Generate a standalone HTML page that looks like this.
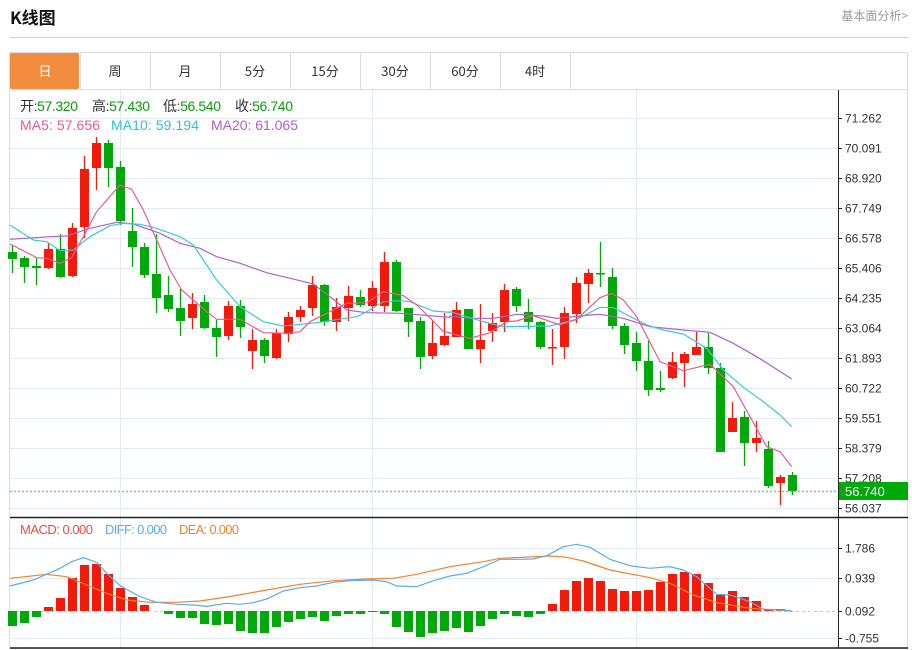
<!DOCTYPE html>
<html><head><meta charset="utf-8">
<style>
body{margin:0;width:912px;height:650px;background:#fff;overflow:hidden;font-family:"Liberation Sans","Noto Sans CJK SC",sans-serif;}
svg{position:absolute;left:0;top:0}
</style></head><body>
<svg id="s" width="912" height="650" xmlns="http://www.w3.org/2000/svg" font-family="Liberation Sans, Noto Sans CJK SC, sans-serif"></svg>
<script>
var s='';
function L(x1,y1,x2,y2,c,w,extra){s+='<line x1="'+x1+'" y1="'+y1+'" x2="'+x2+'" y2="'+y2+'" stroke="'+c+'" stroke-width="'+(w||1)+'" '+(extra||'')+'/>';}
function R(x,y,w,h,c,extra){s+='<rect x="'+x+'" y="'+y+'" width="'+w+'" height="'+h+'" fill="'+c+'" '+(extra||'')+'/>';}
function T(x,y,t,c,sz,extra){s+='<text x="'+x+'" y="'+y+'" fill="'+c+'" font-size="'+sz+'" '+(extra||'')+'>'+t+'</text>';}
// header
T(10,24,'K线图','#111',17,'font-weight="bold" font-family="Noto Sans CJK SC, sans-serif"');
T(908,20,'基本面分析&gt;','#999',12,'text-anchor="end" font-family="Noto Sans CJK SC, sans-serif"');
L(10,37.5,908,37.5,'#d0d0d0',1);
// frame
s+='<rect x="9.5" y="52.5" width="898" height="596" fill="none" stroke="#dcdcdc"/>';
L(10,89.5,908,89.5,'#dcdcdc');
var tabs=['日','周','月','5分','15分','30分','60分','4时'];
R(10,53,69,36,'#f28c3e','rx="2"');
for(var i=0;i<8;i++){var x=10+70*i;
 if(i>0)L(x+0.5,53,x+0.5,89,'#dcdcdc');
 T(x+35,76,tabs[i],i==0?'#fff':'#333',13,'text-anchor="middle" font-family="Noto Sans CJK SC, sans-serif"');}
L(570.5,53,570.5,89,'#dcdcdc');
// grids
for(var k=0;k<14;k++){var y=118+30*k;L(10,y+0.5,838,y+0.5,'#e3ebf2');}
[120,372,636].forEach(function(x){L(x+0.5,90,x+0.5,648,'#e3ebf2');});
[548,578,638].forEach(function(y){L(10,y+0.5,838,y+0.5,'#e3ebf2');});
// axis
L(838.5,90,838.5,648,'#222');
L(10,517.5,908,517.5,'#222',1.5);
L(10,648,908,648,'#222',1.5);
var pl=['71.262','70.091','68.920','67.749','66.578','65.406','64.235','63.064','61.893','60.722','59.551','58.379','57.208','56.037'];
for(var k=0;k<14;k++){var y=118+30*k;L(838,y+0.5,842,y+0.5,'#222');T(845,y+4.5,pl[k],'#333',12);}
[['1.786',548],['0.939',578],['0.092',611],['-0.755',638]].forEach(function(a){L(838,a[1]+0.5,842,a[1]+0.5,'#222');T(845,a[1]+4.5,a[0],'#333',12);});
var C=[['g',245,252,259,273],['g',256,258,267,283],['g',258,266,268,285],['r',243,249,268,269],['g',234,249,277,278],['r',223,228,276,277],['r',156,169,227,238],['r',137,143,168,190],['g',140,143,168,187],['g',161,167,221,225],
['g',208,231,247,267],['g',243,247,275,278],['g',234,274,298,313],['g',276,295,309,312],['g',289,308,321,336],['r',293,304,318,329],['g',295,302,328,329],['g',320,328,337,357],['r',301,306,336,340],['g',300,306,327,338],
['r',329,340,351,369],['g',338,340,356,363],['r',329,333,358,359],['r',312,317,334,342],['r',306,310,317,322],['r',276,285,308,316],['g',284,285,322,326],['r',298,307,322,331],['r',286,296,308,321],['g',290,297,305,307],
['r',281,288,306,311],['r',252,262,306,312],['g',260,262,311,312],['g',308,308,322,337],['g',317,321,357,369],['r',321,343,356,359],['r',313,336,345,346],['r',302,310,337,337],['g',309,309,349,349],['r',304,340,349,363],
['r',313,323,331,342],['r',284,290,322,332],['g',287,289,306,312],['g',299,312,322,329],['g',321,322,347,349],['r',329,347,348,365],['r',307,313,347,359],['r',277,283,314,323],['r',269,273,284,303],['g',242,273,274,287],
['g',268,277,326,329],['g',323,326,345,354],['g',332,343,361,371],['g',341,361,390,396],['g',371,388,390,392],['r',352,362,378,379],['r',352,354,363,387],['r',332,347,355,355],['g',333,347,368,374],['g',363,368,452,452],
['r',402,418,432,432],['g',411,417,443,466],['r',421,438,443,452],['g',441,449,486,488],['r',475,477,483,505],['g',472,475,491,495]];
function cx(i){return 12.5+12*i;}
C.forEach(function(c,i){var col=c[0]=='r'?'#f21a0a':'#00a80a';var x=cx(i);
 L(x,c[1],x,c[4],col,1.3);R(x-4.5,c[2],9,Math.max(1.5,c[3]-c[2]),col);});
L(10,491.5,838,491.5,'#7ccf7c',1.5,'stroke-dasharray="2,2"');
R(839,482,69,18,'#00a80a');T(845,496,'56.740','#fff',13);
function P(pts,col){var d='';for(var i=0;i<pts.length;i+=2)d+=(i?'L':'M')+pts[i]+' '+pts[i+1];s+='<path d="'+d+'" fill="none" stroke="'+col+'" stroke-width="1.2"/>';}
function Z2(a){var r=[];for(var i=0;i<a.length;i+=2){r.push(a[i]/3,130+a[i+1]/3);}return r;}
function Z3(a){var r=[];for(var i=0;i<a.length;i+=2){r.push(450+a[i]/3,230+a[i+1]/3);}return r;}
P(Z2([30,328,150,320,200,318,270,295,350,277,400,282,480,310,540,340,600,355,650,380,720,400,800,428,900,452,940,462,990,500,1040,540,1100,548,1200,550,1350,562]).concat(Z3([0,258,60,265,130,265,200,253,280,258,320,265,420,255,450,253,520,265,600,290,700,300,780,307,850,340,920,380,960,405,1025,447])),'#b35ec9');
P(Z2([30,285,100,330,140,335,180,362,220,360,270,320,330,287,370,280,420,283,460,292,540,320,580,345,650,450,720,530,790,575,850,588,950,578,1070,560,1100,545,1150,515,1200,512,1230,515,1300,543,1350,547]).concat(Z3([0,245,100,275,160,290,300,288,380,268,450,232,490,233,590,285,640,300,700,312,770,355,820,420,880,472,940,515,990,555,1025,590])),'#3cc8dc');
P(Z2([30,342,110,383,140,385,180,400,215,383,250,320,290,245,360,165,395,178,430,240,470,330,510,420,545,480,620,545,650,568,720,568,790,608,860,610,900,605,930,575,1000,540,1040,520,1100,518,1150,485,1210,497,1250,525,1290,563,1330,605,1350,608]).concat(Z3([0,310,60,325,120,308,170,275,200,273,250,257,330,285,380,268,450,203,485,190,520,210,560,260,630,395,700,422,780,403,850,470,950,650,990,665,1025,710])),'#ec5a8c');
// legend
var LG=[[20,'开:','57.320'],[92,'高:','57.430'],[163,'低:','56.540'],[235,'收:','56.740']];
LG.forEach(function(a){s+='<text x="'+a[0]+'" y="111" font-size="14" fill="#333" textLength="'+58+'">'+a[1]+'<tspan fill="#0a9d0a">'+a[2]+'</tspan></text>';});
s+='<text x="20" y="130" font-size="14" fill="#ec5a8c" textLength="80">MA5: 57.656</text>';
s+='<text x="111" y="130" font-size="14" fill="#2fc2d8" textLength="88">MA10: 59.194</text>';
s+='<text x="211" y="130" font-size="14" fill="#b35ec9" textLength="87">MA20: 61.065</text>';
// MACD
var M=[626,623,617,607,598,578,565,564,574,588,597,605,611,614,618,618,624,625,624,631,633,633,627,622,619,617,621,616,614,614,612,614,627,632,637,633,631,628,632,626,619,614,616,617,614,604,590,581,578,581,589,591,591,590,582,574,572,574,583,595,591,597,601,609,609,611];
L(10,611.5,838,611.5,'#9fd8ec',1,'stroke-dasharray="3,3"');
M.forEach(function(y,i){var x=cx(i);if(Math.abs(y-611)<1)return;
 if(y<611)R(x-4.5,y,9,611-y,'#f21a0a');else R(x-4.5,611,9,y-611,'#00a80a');});
function Z4(a){var r=[];for(var i=0;i<a.length;i+=2){r.push(a[i]/3,515+a[i+1]/3);}return r;}
function Z5(a){var r=[];for(var i=0;i<a.length;i+=2){r.push(450+a[i]/3,515+a[i+1]/3);}return r;}
P(Z4([30,190,140,178,200,185,260,210,320,235,380,255,450,262,530,262,600,258,700,243,800,225,900,208,1000,197,1100,192,1180,190,1250,178,1350,155]).concat(Z5([0,155,100,140,150,130,300,123,350,127,400,138,480,165,600,188,660,205,730,240,800,263,900,280,1025,288])),'#f5822a');
P(Z4([30,213,100,195,180,160,215,140,250,128,290,142,320,175,360,212,420,245,470,262,530,268,580,270,620,274,680,265,720,268,760,263,800,252,850,228,900,218,950,213,1000,202,1050,197,1120,195,1160,200,1190,213,1250,215,1300,197,1350,183]).concat(Z5([0,183,50,175,100,155,150,133,200,133,250,132,290,122,340,95,380,88,420,97,480,133,540,152,600,160,660,155,700,165,740,185,800,238,840,240,900,260,940,283,1000,285,1025,288])),'#5aabf0');
s+='<text x="20" y="534" font-size="13" fill="#f04a3a" textLength="73">MACD: 0.000</text>';
s+='<text x="105" y="534" font-size="13" fill="#5aabf0" textLength="62">DIFF: 0.000</text>';
s+='<text x="179" y="534" font-size="13" fill="#f5822a" textLength="60">DEA: 0.000</text>';
document.getElementById('s').innerHTML=s;
</script>
</body></html>
